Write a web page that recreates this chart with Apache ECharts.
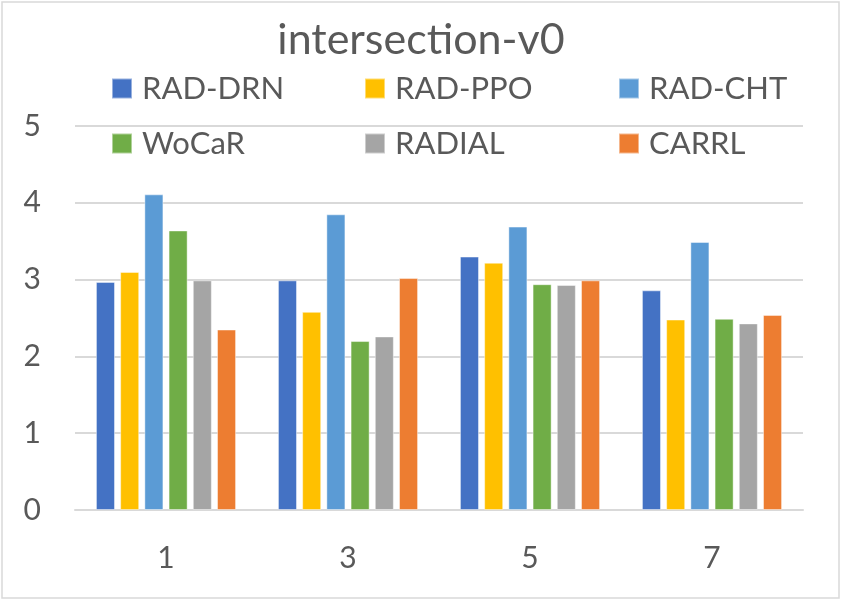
<!DOCTYPE html>
<html>
<head>
<meta charset="utf-8">
<script src="https://cdn.jsdelivr.net/npm/echarts@6/dist/echarts.min.js"></script>
<style>
html,body{margin:0;padding:0;background:#fff;}
#chart{width:842px;height:602px;}
</style>
</head>
<body>
<div id="chart"></div>
<script>
const categories = ['1', '3', '5', '7'];
const seriesNames = ['RAD-DRN', 'RAD-PPO', 'RAD-CHT', 'WoCaR', 'RADIAL', 'CARRL'];
const radDrn = [2.97, 2.99, 3.30, 2.86];
const radPpo = [3.10, 2.58, 3.22, 2.48];
const radCht = [4.11, 3.85, 3.69, 3.49];
const wocar  = [3.64, 2.20, 2.94, 2.49];
const radial = [2.99, 2.26, 2.93, 2.43];
const carrl  = [2.35, 3.02, 2.99, 2.54];
const yTicks = [0, 1, 2, 3, 4, 5];

const values = [radDrn, radPpo, radCht, wocar, radial, carrl];
const colors = ['#4472C4', '#FFC000', '#5B9BD5', '#70AD47', '#A5A5A5', '#ED7D31'];
const textColor = '#595959';
const font = 'Lato';

const legendPos = [
  {left: 111, top: 73}, {left: 364, top: 73}, {left: 618, top: 73},
  {left: 111, top: 128}, {left: 364, top: 128}, {left: 618, top: 128}
];

const chart = echarts.init(document.getElementById('chart'));
chart.setOption({
  backgroundColor: '#fff',
  animation: false,
  textStyle: {fontFamily: font},
  title: {
    text: 'intersection-v0',
    left: 'center',
    top: 14,
    textStyle: {fontFamily: font, fontSize: 43, fontWeight: 'normal', color: textColor}
  },
  legend: seriesNames.map((n, i) => ({
    data: [n],
    left: legendPos[i].left,
    top: legendPos[i].top,
    icon: 'rect',
    itemWidth: 20,
    itemHeight: 20,
    padding: 0,
    textStyle: {fontFamily: font, fontSize: 31, color: textColor, lineHeight: 30, padding: [0, 0, 0, 5]}
  })),
  grid: {left: 75, right: 39, top: 126, bottom: 92, containLabel: false},
  xAxis: {
    type: 'category',
    data: categories,
    axisLine: {show: true, lineStyle: {color: '#d9d9d9', width: 2}},
    axisTick: {show: false},
    axisLabel: {fontFamily: font, fontSize: 30, color: textColor, margin: 33, lineHeight: 30}
  },
  yAxis: {
    type: 'value',
    min: yTicks[0],
    max: yTicks[yTicks.length - 1],
    interval: 1,
    axisLine: {show: false},
    axisTick: {show: false},
    splitLine: {lineStyle: {color: '#d9d9d9', width: 2}},
    axisLabel: {fontFamily: font, fontSize: 30, color: textColor, margin: 34}
  },
  series: seriesNames.map((n, i) => ({
    name: n,
    type: 'bar',
    data: values[i],
    barGap: '27%',
    barCategoryGap: '23%',
    itemStyle: {color: colors[i], borderColor: 'rgba(255,255,255,0.45)', borderWidth: 1}
  })),
  graphic: [{
    type: 'rect',
    shape: {x: 2, y: 2, width: 837, height: 596},
    style: {fill: 'none', stroke: '#d9d9d9', lineWidth: 1.5},
    silent: true,
    z: 100
  }]
});
</script>
</body>
</html>
